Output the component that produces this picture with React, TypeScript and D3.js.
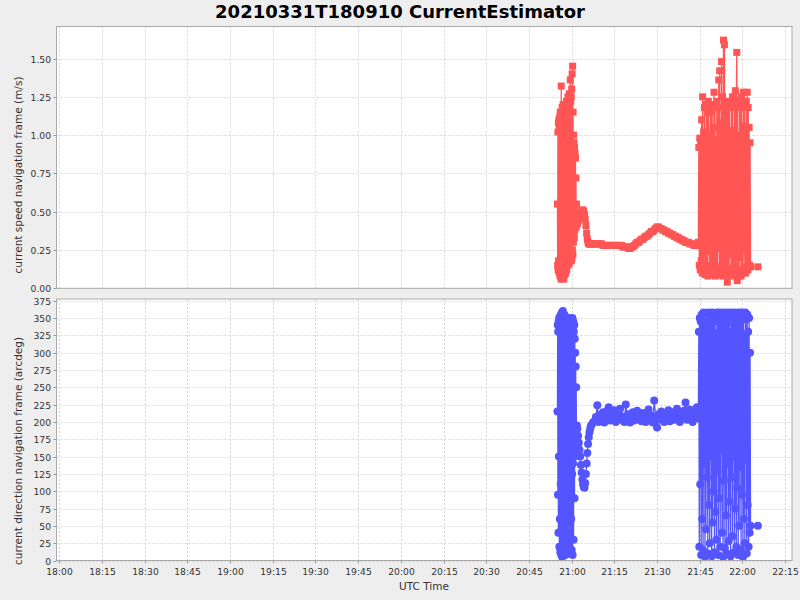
import * as d3 from "d3";

const parseTime = d3.timeParse("%H:%M:%S");

// [UTC time, current speed (m/s), current direction (arcdeg)]
const firstBurst: [string, number, number][] = [
  ["20:55:00", 0.55, 215], ["20:55:05", 0.15, 340], ["20:55:10", 1.02, 95], ["20:55:15", 0.12, 330],
  ["20:55:20", 1.08, 40], ["20:55:25", 0.18, 345], ["20:55:30", 1.1, 150], ["20:55:35", 0.1, 350],
  ["20:55:40", 1.05, 20], ["20:55:45", 0.14, 338], ["20:55:50", 1.12, 60], ["20:55:55", 0.08, 352],
  ["20:56:00", 1.15, 12], ["20:56:05", 0.12, 340], ["20:56:10", 1.1, 110], ["20:56:15", 0.06, 355],
  ["20:56:20", 1.32, 8], ["20:56:25", 0.1, 348], ["20:56:30", 1.12, 45], ["20:56:35", 0.07, 358],
  ["20:56:40", 1.18, 5], ["20:56:45", 0.14, 345], ["20:56:50", 1.15, 130], ["20:56:55", 0.08, 360],
  ["20:57:00", 1.2, 10], ["20:57:05", 0.16, 350], ["20:57:10", 1.12, 70], ["20:57:15", 0.06, 342],
  ["20:57:20", 1.18, 25], ["20:57:25", 0.12, 355], ["20:57:30", 1.15, 160], ["20:57:35", 0.09, 348],
  ["20:57:40", 1.2, 35], ["20:57:45", 0.15, 352], ["20:57:50", 1.12, 8], ["20:57:55", 0.1, 340],
  ["20:58:00", 1.18, 90], ["20:58:05", 0.18, 350], ["20:58:10", 1.22, 15], ["20:58:15", 0.12, 345],
  ["20:58:20", 1.15, 120], ["20:58:25", 0.2, 338], ["20:58:30", 1.2, 40], ["20:58:35", 0.15, 330],
  ["20:58:40", 1.25, 10], ["20:58:45", 0.18, 345], ["20:58:50", 1.18, 150], ["20:58:55", 0.2, 335],
  ["20:59:00", 1.22, 55], ["20:59:05", 0.16, 348], ["20:59:10", 1.27, 20], ["20:59:15", 0.22, 340],
  ["20:59:20", 1.2, 100], ["20:59:25", 0.18, 350], ["20:59:30", 1.36, 30], ["20:59:35", 0.2, 338],
  ["20:59:40", 1.22, 170], ["20:59:45", 0.22, 345], ["20:59:50", 1.25, 60], ["20:59:55", 0.18, 332],
  ["21:00:00", 1.3, 15], ["21:00:05", 0.2, 340], ["21:00:10", 1.4, 125], ["21:00:15", 0.25, 350],
  ["21:00:20", 1.45, 8], ["21:00:25", 0.22, 335], ["21:00:30", 1.15, 140], ["21:00:35", 0.3, 345],
  ["21:00:40", 1.0, 30], ["21:00:45", 0.35, 330], ["21:00:50", 0.95, 180], ["21:00:55", 0.33, 340],
  ["21:01:00", 0.92, 90], ["21:01:05", 0.38, 320], ["21:01:10", 0.88, 150], ["21:01:15", 0.4, 300],
  ["21:01:20", 0.85, 160], ["21:01:25", 0.42, 280], ["21:01:30", 0.72, 170], ["21:01:35", 0.4, 250],
  ["21:01:40", 0.55, 190],
];

const transit: [string, number, number][] = [
  ["21:01:50", 0.45, 195], ["21:02:00", 0.42, 190], ["21:02:15", 0.44, 180], ["21:02:30", 0.46, 170],
  ["21:02:45", 0.48, 160], ["21:03:00", 0.49, 150], ["21:03:15", 0.5, 138], ["21:03:30", 0.51, 127],
  ["21:03:45", 0.51, 117], ["21:04:00", 0.51, 110], ["21:04:15", 0.5, 106], ["21:04:30", 0.48, 105],
  ["21:04:45", 0.45, 112], ["21:05:00", 0.41, 125], ["21:05:15", 0.36, 140], ["21:05:30", 0.32, 155],
  ["21:05:45", 0.3, 168], ["21:06:00", 0.29, 178], ["21:06:15", 0.29, 185], ["21:06:30", 0.29, 190],
  ["21:06:45", 0.29, 194], ["21:07:00", 0.29, 196], ["21:07:30", 0.29, 199], ["21:08:00", 0.29, 201],
  ["21:08:30", 0.29, 207], ["21:09:00", 0.29, 224], ["21:09:30", 0.29, 200], ["21:10:00", 0.29, 210],
  ["21:10:30", 0.29, 203], ["21:11:00", 0.28, 214], ["21:11:30", 0.28, 199], ["21:12:00", 0.28, 208],
  ["21:12:30", 0.28, 216], ["21:13:00", 0.28, 221], ["21:13:30", 0.28, 202], ["21:14:00", 0.28, 210],
  ["21:14:30", 0.28, 205], ["21:15:00", 0.28, 217], ["21:15:30", 0.28, 200], ["21:16:00", 0.28, 209],
  ["21:16:30", 0.28, 213], ["21:17:00", 0.28, 219], ["21:17:30", 0.28, 203], ["21:18:00", 0.27, 208],
  ["21:18:30", 0.27, 200], ["21:19:00", 0.27, 225], ["21:19:30", 0.27, 206], ["21:20:00", 0.26, 211],
  ["21:20:30", 0.26, 199], ["21:21:00", 0.27, 207], ["21:21:30", 0.27, 214], ["21:22:00", 0.28, 202],
  ["21:22:30", 0.29, 210], ["21:23:00", 0.3, 216], ["21:23:30", 0.3, 204], ["21:24:00", 0.31, 209],
  ["21:24:30", 0.32, 201], ["21:25:00", 0.32, 213], ["21:25:30", 0.33, 206], ["21:26:00", 0.34, 200],
  ["21:26:30", 0.34, 212], ["21:27:00", 0.35, 218], ["21:27:30", 0.36, 204], ["21:28:00", 0.37, 209],
  ["21:28:30", 0.37, 199], ["21:29:00", 0.38, 231], ["21:29:30", 0.39, 207], ["21:30:00", 0.4, 192],
  ["21:30:30", 0.4, 211], ["21:31:00", 0.39, 203], ["21:31:30", 0.39, 215], ["21:32:00", 0.38, 208],
  ["21:32:30", 0.38, 200], ["21:33:00", 0.37, 212], ["21:33:30", 0.37, 205], ["21:34:00", 0.36, 217],
  ["21:34:30", 0.36, 201], ["21:35:00", 0.35, 209], ["21:35:30", 0.35, 214], ["21:36:00", 0.34, 203],
  ["21:36:30", 0.34, 210], ["21:37:00", 0.33, 219], ["21:37:30", 0.33, 206], ["21:38:00", 0.32, 200],
  ["21:38:30", 0.32, 212], ["21:39:00", 0.31, 207], ["21:39:30", 0.31, 216], ["21:40:00", 0.3, 228],
  ["21:40:30", 0.3, 203], ["21:41:00", 0.3, 211], ["21:41:30", 0.29, 218], ["21:42:00", 0.29, 205],
  ["21:42:30", 0.29, 200], ["21:43:00", 0.28, 214], ["21:43:30", 0.28, 208], ["21:44:00", 0.28, 221],
  ["21:44:15", 0.28, 210],
];

const secondBurst: [string, number, number][] = [
  ["21:44:30", 0.3, 205], ["21:44:40", 0.92, 330], ["21:44:50", 0.15, 20], ["21:45:00", 0.98, 350],
  ["21:45:10", 0.12, 110], ["21:45:20", 0.96, 345], ["21:45:30", 0.18, 8], ["21:45:40", 1.1, 355],
  ["21:45:50", 0.1, 60], ["21:46:00", 1.25, 340], ["21:46:10", 0.14, 15], ["21:46:20", 1.02, 358],
  ["21:46:30", 0.22, 140], ["21:46:40", 1.18, 335], ["21:46:50", 0.09, 5], ["21:47:00", 0.98, 345],
  ["21:47:10", 0.15, 45], ["21:47:20", 1.2, 356], ["21:47:30", 0.11, 120], ["21:47:40", 1.15, 340],
  ["21:47:50", 0.08, 10], ["21:48:00", 1.22, 358], ["21:48:10", 0.24, 80], ["21:48:20", 1.0, 332],
  ["21:48:30", 0.1, 25], ["21:48:40", 1.18, 355], ["21:48:50", 0.13, 150], ["21:49:00", 1.15, 342],
  ["21:49:10", 0.09, 6], ["21:49:20", 1.2, 358], ["21:49:30", 0.15, 55], ["21:49:40", 1.05, 350],
  ["21:49:50", 0.1, 100], ["21:50:00", 1.28, 345], ["21:50:10", 0.12, 12], ["21:50:20", 1.18, 357],
  ["21:50:30", 0.08, 70], ["21:50:40", 0.97, 328], ["21:50:50", 0.14, 30], ["21:51:00", 1.22, 358],
  ["21:51:10", 0.1, 130], ["21:51:20", 1.18, 352], ["21:51:30", 0.26, 8], ["21:51:40", 1.36, 346],
  ["21:51:50", 0.09, 90], ["21:52:00", 1.42, 358], ["21:52:10", 0.12, 20], ["21:52:20", 1.08, 338],
  ["21:52:30", 0.1, 160], ["21:52:40", 1.48, 355], ["21:52:50", 0.14, 40], ["21:53:00", 1.25, 342],
  ["21:53:10", 0.08, 5], ["21:53:20", 1.62, 358], ["21:53:30", 0.12, 115], ["21:53:40", 1.59, 348],
  ["21:53:50", 0.1, 18], ["21:54:00", 1.22, 356], ["21:54:10", 0.14, 65], ["21:54:20", 1.15, 340],
  ["21:54:30", 0.09, 10], ["21:54:40", 0.04, 358], ["21:54:50", 1.2, 140], ["21:55:00", 0.12, 350],
  ["21:55:10", 1.18, 28], ["21:55:20", 0.1, 355], ["21:55:30", 1.22, 85], ["21:55:40", 0.22, 330],
  ["21:55:50", 0.99, 6], ["21:56:00", 0.08, 358], ["21:56:10", 1.2, 120], ["21:56:20", 0.12, 350],
  ["21:56:30", 1.25, 35], ["21:56:40", 0.1, 356], ["21:56:50", 1.03, 150], ["21:57:00", 0.14, 342],
  ["21:57:10", 1.18, 12], ["21:57:20", 0.09, 358], ["21:57:30", 1.29, 75], ["21:57:40", 0.12, 336],
  ["21:57:50", 1.22, 20], ["21:58:00", 1.54, 355], ["21:58:10", 0.05, 105], ["21:58:20", 1.2, 340],
  ["21:58:30", 0.12, 8], ["21:58:40", 1.0, 358], ["21:58:50", 0.1, 50], ["21:59:00", 1.22, 350],
  ["21:59:10", 0.2, 135], ["21:59:20", 1.18, 345], ["21:59:30", 0.08, 15], ["21:59:40", 1.25, 358],
  ["21:59:50", 0.12, 95], ["22:00:00", 1.02, 352], ["22:00:10", 0.1, 5], ["22:00:20", 1.28, 356],
  ["22:00:30", 0.25, 60], ["22:00:40", 1.2, 325], ["22:00:50", 0.12, 25], ["22:01:00", 1.06, 358],
  ["22:01:10", 0.1, 145], ["22:01:20", 1.22, 348], ["22:01:30", 0.14, 10], ["22:01:40", 1.28, 355],
  ["22:01:50", 0.12, 80], ["22:02:00", 1.18, 330], ["22:02:10", 0.14, 20], ["22:02:20", 1.05, 350],
  ["22:02:30", 0.15, 40], ["22:02:40", 0.95, 300], ["22:02:50", 0.14, 50],
];

const lastFix: [string, number, number][] = [["22:05:25", 0.14, 50]];

const speedTicks = [0, 0.25, 0.5, 0.75, 1.0, 1.25, 1.5];
const directionTicks = [0, 25, 50, 75, 100, 125, 150, 175, 200, 225, 250, 275, 300, 325, 350, 375];
const timeTicks = [
  "18:00", "18:15", "18:30", "18:45", "19:00", "19:15", "19:30", "19:45", "20:00",
  "20:15", "20:30", "20:45", "21:00", "21:15", "21:30", "21:45", "22:00", "22:15",
];

const W = 800;
const H = 600;
const left = 56.5;
const right = 792;
const speedPanel = { top: 26.5, bottom: 288.3 };
const dirPanel = { top: 299, bottom: 560.5 };
const font = "'DejaVu Sans', sans-serif";
const red = "#ff5555";
const blue = "#5555ff";

type Row = { t: Date; speed: number; dir: number };
const rows: Row[] = [...firstBurst, ...transit, ...secondBurst, ...lastFix].map(([t, speed, dir]) => ({
  t: parseTime(t)!,
  speed,
  dir,
}));

const x = d3
  .scaleTime()
  .domain([parseTime("17:59:01")!, parseTime("22:17:24")!])
  .range([left, right]);
const ySpeed = d3.scaleLinear().domain([0, 1.709]).range([speedPanel.bottom, speedPanel.top]);
const yDir = d3.scaleLinear().domain([0, 377.4]).range([dirPanel.bottom, dirPanel.top]);

function Panel({
  id,
  panel,
  y,
  ticks,
  fmt,
  children,
}: {
  id: string;
  panel: { top: number; bottom: number };
  y: d3.ScaleLinear<number, number>;
  ticks: number[];
  fmt: (v: number) => string;
  children: React.ReactNode;
}) {
  return (
    <g>
      <clipPath id={id}>
        <rect x={left} y={panel.top} width={right - left} height={panel.bottom - panel.top} />
      </clipPath>
      <rect x={left} y={panel.top} width={right - left} height={panel.bottom - panel.top} fill="#fff" />
      {timeTicks.map((s) => {
        const xx = Math.round(x(parseTime(s + ":00")!)) + 0.5;
        return (
          <line key={s} x1={xx} x2={xx} y1={panel.top} y2={panel.bottom}
            stroke="#d6d6d6" strokeDasharray="2,2" strokeWidth={1} />
        );
      })}
      {ticks.map((v) => {
        const yy = Math.round(y(v)) + 0.5;
        return (
          <g key={v}>
            <line x1={left} x2={right} y1={yy} y2={yy} stroke="#d6d6d6" strokeDasharray="2,2" strokeWidth={1} />
            <line x1={left - 3} x2={left} y1={yy} y2={yy} stroke="#999" />
            <text x={left - 5.5} y={yy} dy="0.33em" textAnchor="end" fontSize={9.2} fill="#333">
              {fmt(v)}
            </text>
          </g>
        );
      })}
      <g clipPath={`url(#${id})`}>{children}</g>
      <rect x={left} y={panel.top} width={right - left} height={panel.bottom - panel.top}
        fill="none" stroke="#aaa" strokeWidth={1} />
    </g>
  );
}

export default function App() {
  const speedLine = d3.line<Row>().x((d) => x(d.t)).y((d) => ySpeed(d.speed));
  const dirLine = d3.line<Row>().x((d) => x(d.t)).y((d) => yDir(d.dir));

  return (
    <div style={{ position: "absolute", left: 0, top: 0 }}>
      <svg width={W} height={H} style={{ display: "block", fontFamily: font }}>
        <rect width={W} height={H} fill="#eeeeee" />
        <text x={400} y={18} textAnchor="middle" fontSize={18} fontWeight="bold" fill="#000">
          20210331T180910 CurrentEstimator
        </text>

        <Panel id="clip-speed" panel={speedPanel} y={ySpeed} ticks={speedTicks} fmt={d3.format(".2f")}>
          <path d={speedLine(rows) ?? ""} fill="none" stroke={red} strokeWidth={1.3} />
          {rows.map((d, i) => (
            <rect key={i} x={x(d.t) - 3.5} y={ySpeed(d.speed) - 3.5} width={7} height={7} fill={red} />
          ))}
        </Panel>

        <Panel id="clip-dir" panel={dirPanel} y={yDir} ticks={directionTicks} fmt={d3.format("d")}>
          <path d={dirLine(rows) ?? ""} fill="none" stroke={blue} strokeWidth={1.3} />
          {rows.map((d, i) => (
            <circle key={i} cx={x(d.t)} cy={yDir(d.dir)} r={4} fill={blue} />
          ))}
        </Panel>

        {timeTicks.map((s) => {
          const xx = Math.round(x(parseTime(s + ":00")!)) + 0.5;
          return (
            <g key={s}>
              <line x1={xx} x2={xx} y1={dirPanel.bottom} y2={dirPanel.bottom + 3} stroke="#999" />
              <text x={xx} y={574.5} textAnchor="middle" fontSize={9.2} fill="#333">
                {s}
              </text>
            </g>
          );
        })}

        <text x={424} y={590} textAnchor="middle" fontSize={10.5} fill="#333">
          UTC Time
        </text>
        <text transform="translate(22,175) rotate(-90)" textAnchor="middle" fontSize={10.5} fill="#333">
          current speed navigation frame (m/s)
        </text>
        <text transform="translate(22,451) rotate(-90)" textAnchor="middle" fontSize={10.5} fill="#333">
          current direction navigation frame (arcdeg)
        </text>
      </svg>
    </div>
  );
}
